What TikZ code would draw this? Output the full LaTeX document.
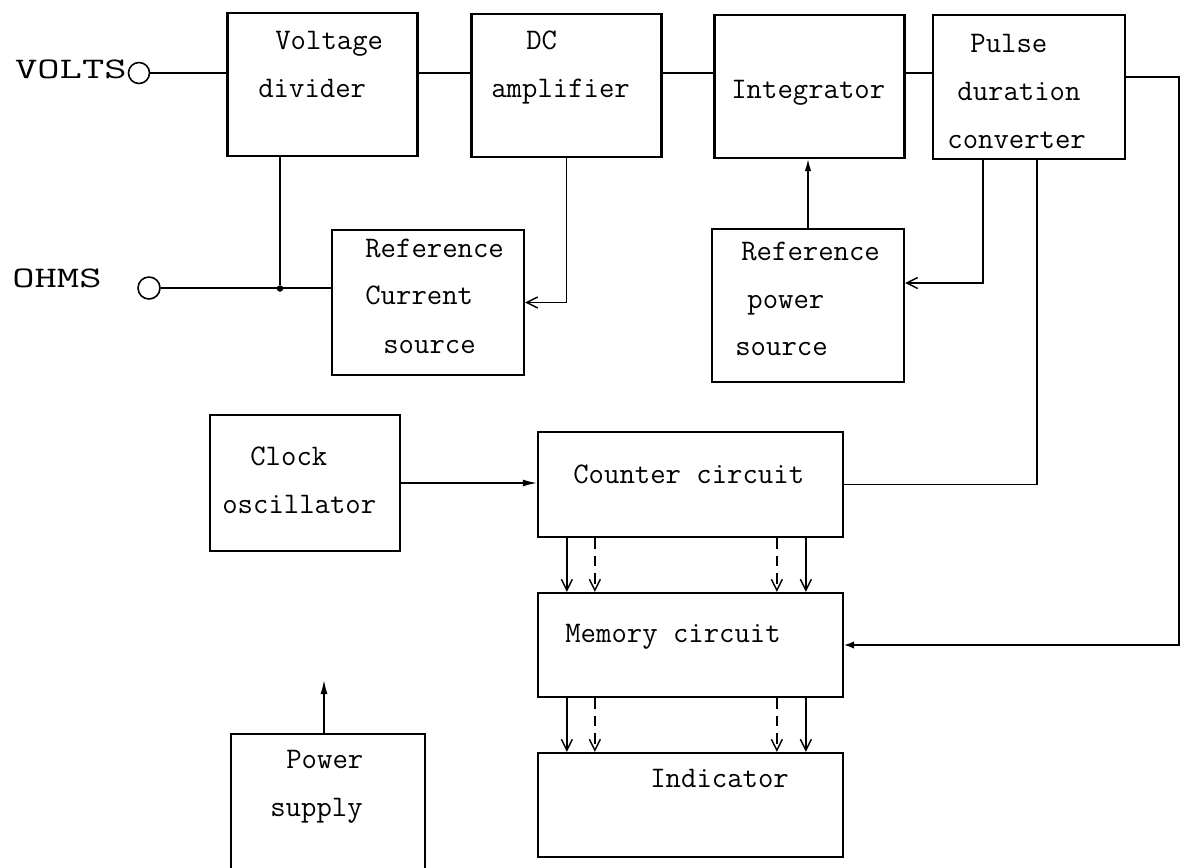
\documentclass[tikz,border=0pt]{standalone}
\usepackage{tikz}
\usetikzlibrary{arrows.meta,calc}

\begin{document}
\begin{tikzpicture}[
  blk/.style={draw,line width=1.3pt,minimum width=3.8cm,minimum height=2.86cm,inner sep=0pt},
  txt/.style={anchor=base west,inner sep=0pt,font=\fontsize{17}{20}\selectfont\ttfamily},
  term/.style={draw,circle,line width=0.9pt,minimum size=0.42cm,inner sep=0pt},
  wire/.style={line width=0.8pt},
  barb/.style={wire,-{Straight Barb[length=2.2mm,width=2.2mm]}},
  solidarr/.style={wire,-{Latex[length=2.8mm,width=1.4mm]}},
  dsh/.style={dash pattern=on 6pt off 4pt},
]
\useasboundingbox (0,0) rectangle (23.62,-17.34);

% top row
\node[blk] (vd) at (6.45,-1.69) {};
\node[blk] (dc) at (11.33,-1.71) {};
\node[blk] (integ) at (16.19,-1.73) {};
\node[blk,minimum width=3.84cm,minimum height=2.88cm] (pdc) at (20.58,-1.74) {};
\node[txt] (vd1) at (5.50,-0.98) {Voltage};
\node[txt] (vd2) at (5.16,-1.94) {divider};
\node[txt] (dc1) at (10.52,-0.98) {DC};
\node[txt] (dc2) at (9.82,-1.94) {amplifier};
\node[txt] (int1) at (14.62,-1.96) {Integrator};
\node[txt] (pdc1) at (19.40,-1.04) {Pulse};
\node[txt] (pdc2) at (19.14,-2.00) {duration};
\node[txt] (pdc3) at (18.94,-2.96) {converter};

% reference sources
\node[blk,minimum width=3.84cm,minimum height=2.90cm] (rcs) at (8.56,-6.05) {};
\node[blk,minimum width=3.84cm,minimum height=3.06cm] (rps) at (16.16,-6.11) {};
\node[txt] (rcs1) at (7.30,-5.14) {Reference};
\node[txt] (rcs2) at (7.30,-6.08) {Current};
\node[txt] (rcs3) at (7.66,-7.06) {source};
\node[txt] (rps1) at (14.82,-5.20) {Reference};
\node[txt] (rps2) at (14.94,-6.16) {power};
\node[txt] (rps3) at (14.70,-7.10) {source};

% inputs
\node[term] (vterm) at (2.78,-1.46) {};
\node[txt,anchor=base east] (volts) at (2.54,-1.56) {\scalebox{1.45}[1]{VOLTS}};
\node[term,minimum size=0.44cm] (oterm) at (2.98,-5.76) {};
\node[txt] (ohms) at (0.24,-5.74) {\scalebox{1.45}[1]{OHMS}};
\node[circle,fill,inner sep=0pt,minimum size=0.13cm] (jn) at (5.60,-5.77) {};
\coordinate (rt) at (23.58,-1.54);

% counting chain
\node[blk,minimum width=3.80cm,minimum height=2.72cm] (clk) at (6.10,-9.66) {};
\node[blk,minimum width=6.10cm,minimum height=2.10cm] (cnt) at (13.81,-9.69) {};
\node[blk,minimum width=6.10cm,minimum height=2.08cm] (mem) at (13.81,-12.90) {};
\node[blk,minimum width=6.10cm,minimum height=2.08cm] (ind) at (13.81,-16.10) {};
\node[blk,minimum width=3.88cm,minimum height=3.32cm] (pwr) at (6.56,-16.34) {};
\node[txt] (clk1) at (5.00,-9.30) {Clock};
\node[txt] (clk2) at (4.44,-10.26) {oscillator};
\node[txt] (cnt1) at (11.46,-9.66) {Counter circuit};
\node[txt] (mem1) at (11.30,-12.84) {Memory circuit};
\node[txt] (ind1) at (13.00,-15.74) {Indicator};
\node[txt] (pwr1) at (5.72,-15.36) {Power};
\node[txt] (pwr2) at (5.40,-16.32) {supply};
\coordinate (psup) at (6.48,-13.60);

% wiring
\draw[wire] (vterm.east) -- (vd.west |- vterm);
\draw[wire] (vd.east |- vterm) -- (dc.west |- vterm);
\draw[wire] (dc.east |- vterm) -- (integ.west |- vterm);
\draw[wire] (integ.east |- vterm) -- (pdc.west |- vterm);
\draw[solidarr,-{Latex[length=2mm,width=1.5mm]}] (pdc.east |- rt) -- (rt) |- (mem.east);
\draw[wire] (jn |- vd.south) -- (jn);
\draw[wire] (oterm.east) -- (rcs.west |- oterm);
\draw[barb] (dc.south) |- (rcs.east);
\draw[solidarr,-{Latex[length=2.4mm,width=1.3mm]}] (rps.north) -- (rps.north |- integ.south);
\draw[barb] ([xshift=-0.92cm]pdc.south) |- ([yshift=0.45cm]rps.east);
\draw[wire] ([xshift=0.16cm]pdc.south) |- (cnt.east);
\draw[solidarr] (clk.east) -- (cnt.west |- clk.east);
\draw[solidarr] (pwr.north -| psup) -- (psup);
\foreach \dx/\pat in {0.60/solid,1.16/dsh,4.80/dsh,5.38/solid}{
  \draw[barb,\pat] ($(cnt.south west)+(\dx,0)$) -- ($(mem.north west)+(\dx,0)$);
  \draw[barb,\pat] ($(mem.south west)+(\dx,0)$) -- ($(ind.north west)+(\dx,0)$);
}
\end{tikzpicture}
\end{document}
